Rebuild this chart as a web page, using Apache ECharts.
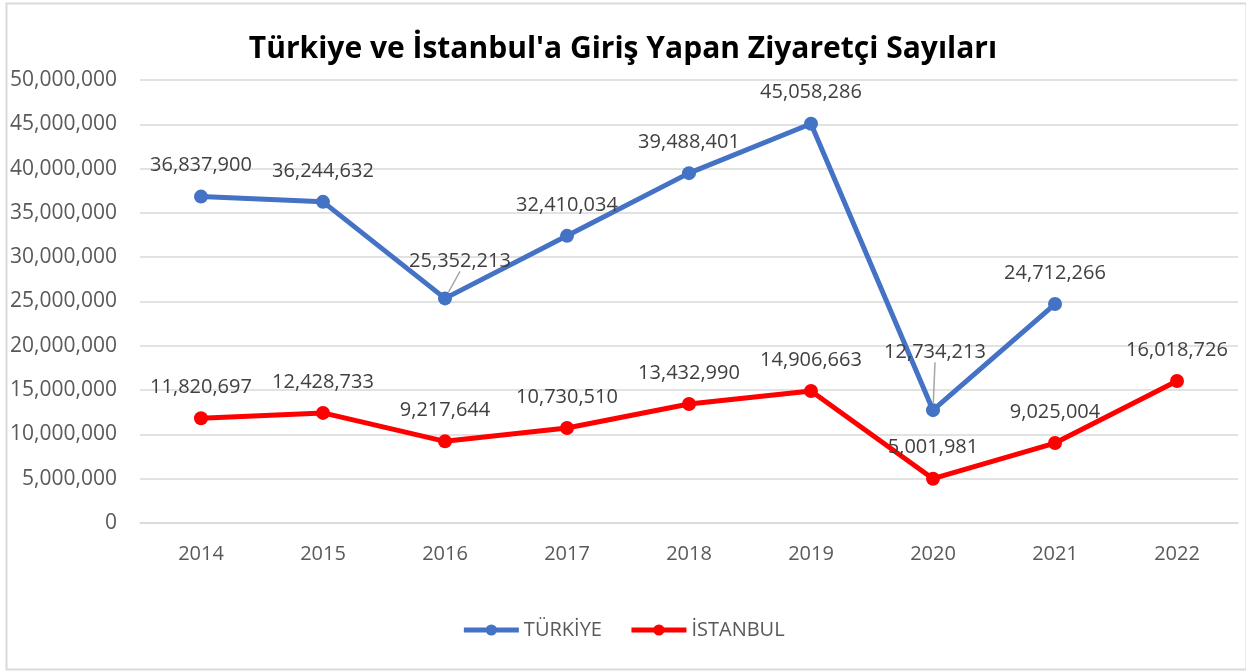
<!DOCTYPE html>
<html>
<head>
<meta charset="utf-8">
<script src="https://cdn.jsdelivr.net/npm/echarts@6/dist/echarts.min.js"></script>
<style>
  html, body { margin: 0; padding: 0; background: #fff; }
  #chart { width: 1246px; height: 672px; }
</style>
</head>
<body>
<div id="chart"></div>
<script>
// Yearly visitor arrivals
const years = ['2014', '2015', '2016', '2017', '2018', '2019', '2020', '2021', '2022'];
const turkiye = [36837900, 36244632, 25352213, 32410034, 39488401, 45058286, 12734213, 24712266, null];
const istanbul = [11820697, 12428733, 9217644, 10730510, 13432990, 14906663, 5001981, 9025004, 16018726];
const yTicks = { min: 0, max: 50000000, interval: 5000000 };

const FONT = '"Open Sans", "Noto Sans", sans-serif';
const fmt = v => Number(v).toLocaleString('en-US');

// Labels that sit away from their point, joined back by a guide line
const labelShift = { 2: { dx: 15, dy: -6 }, 6: { dx: 2, dy: -27 } };

const turkiyeData = turkiye.map((v, i) => ({
  value: v,
  labelLine: { show: !!labelShift[i], lineStyle: { color: '#a6a6a6', width: 1.5 } }
}));

const chart = echarts.init(document.getElementById('chart'), null, { renderer: 'canvas' });

const labelStyle = {
  show: true,
  position: 'top',
  distance: 14,
  fontFamily: FONT,
  fontSize: 20,
  color: '#404040',
  formatter: p => fmt(p.value)
};

chart.setOption({
  animation: false,
  backgroundColor: '#ffffff',
  title: {
    text: "Türkiye ve İstanbul'a Giriş Yapan Ziyaretçi Sayıları",
    left: 'center',
    top: 29,
    textStyle: { fontFamily: FONT, fontSize: 30, fontWeight: 'bold', color: '#000000' }
  },
  legend: {
    bottom: 27,
    left: 'center',
    itemWidth: 55,
    itemHeight: 14,
    itemGap: 27,
    lineStyle: { width: 5 },
    textStyle: { fontFamily: FONT, fontSize: 20, color: '#595959' },
    data: ['TÜRKİYE', 'İSTANBUL']
  },
  grid: { left: 140, right: 8, top: 80, bottom: 149, containLabel: false },
  xAxis: {
    type: 'category',
    data: years,
    boundaryGap: true,
    axisLine: { show: true, lineStyle: { color: '#d9d9d9', width: 1.5 } },
    axisTick: { show: false },
    axisLabel: { margin: 21, fontFamily: FONT, fontSize: 20, color: '#595959' }
  },
  yAxis: {
    type: 'value',
    min: yTicks.min,
    max: yTicks.max,
    interval: yTicks.interval,
    axisLine: { show: false },
    axisTick: { show: false },
    splitLine: { lineStyle: { color: '#d9d9d9', width: 1.5 } },
    axisLabel: { margin: 23, fontFamily: FONT, fontSize: 21, color: '#595959', formatter: v => fmt(v) }
  },
  series: [
    {
      name: 'TÜRKİYE',
      type: 'line',
      data: turkiyeData,
      connectNulls: false,
      symbol: 'circle',
      symbolSize: 14,
      itemStyle: { color: '#4472C4' },
      lineStyle: { color: '#4472C4', width: 5 },
      label: labelStyle,
      labelLayout: p => labelShift[p.dataIndex] || {},
      z: 3
    },
    {
      name: 'İSTANBUL',
      type: 'line',
      data: istanbul,
      symbol: 'circle',
      symbolSize: 14,
      itemStyle: { color: '#FF0000' },
      lineStyle: { color: '#FF0000', width: 5 },
      label: labelStyle,
      z: 2
    }
  ],
  graphic: [
    {
      type: 'rect',
      left: 4,
      top: 1,
      shape: { width: 1240, height: 666 },
      style: { fill: 'none', stroke: '#d9d9d9', lineWidth: 2 },
      silent: true,
      z: -1
    }
  ]
});
</script>
</body>
</html>
